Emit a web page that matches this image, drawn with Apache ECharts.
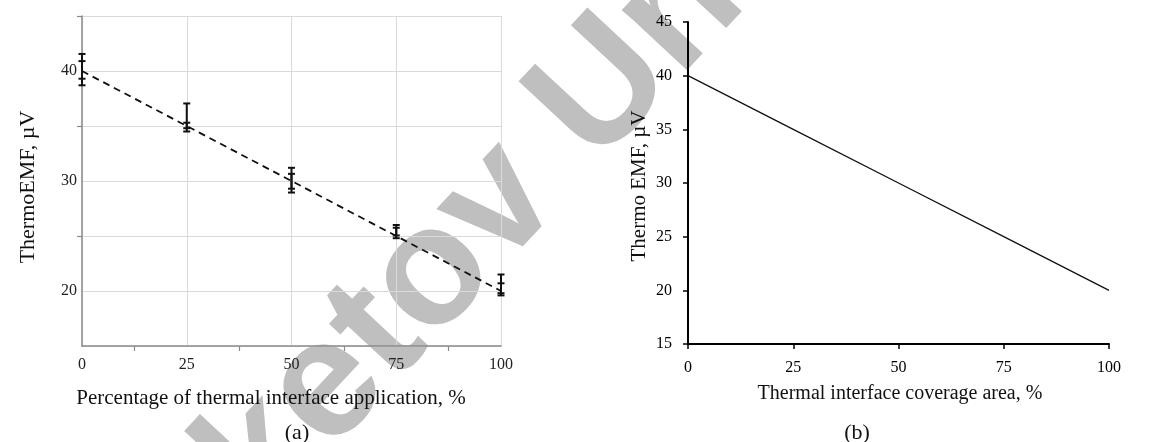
<!DOCTYPE html>
<html>
<head>
<meta charset="utf-8">
<script src="https://cdn.jsdelivr.net/npm/echarts@6/dist/echarts.min.js"></script>
<style>
  html, body { margin: 0; padding: 0; background: #fff; }
  #chart { width: 1174px; height: 442px; }
</style>
</head>
<body>
<div id="chart"></div>
<script>
// Panel (a): measured thermoEMF vs share of thermal interface applied
const coverageA = [0, 25, 50, 75, 100];
const emfMean = [40, 35, 30, 25, 20];
const emfOuterLow = [38.7, 34.5, 28.95, 24.8, 19.6];
const emfOuterHigh = [41.55, 37.05, 31.2, 26.0, 21.5];
const emfInnerLow = [39.3, 34.8, 29.3, 25.05, 19.8];
const emfInnerHigh = [40.9, 35.3, 30.65, 25.75, 20.7];

// Panel (b): thermoEMF vs thermal interface coverage area
const coverageB = [0, 25, 50, 75, 100];
const emfB = [40, 35, 30, 25, 20];

// Axis tick / label values for panel (a)
const yTicksA = [25, 35, 45];
const yLabelsA = [20, 30, 40];
const xMinorTicksA = [12.5, 37.5, 62.5, 87.5];

const serif = '"Liberation Serif", "Times New Roman", serif';

const chart = echarts.init(document.getElementById('chart'), null, { renderer: 'canvas' });

function errorBar(params, api) {
  const x = api.value(0);
  const lo = api.coord([x, api.value(1)]);
  const hi = api.coord([x, api.value(2)]);
  const hw = 3.5;
  const style = { stroke: '#111', lineWidth: 2 };
  return {
    type: 'group',
    children: [
      { type: 'line', shape: { x1: lo[0], y1: lo[1], x2: hi[0], y2: hi[1] }, style },
      { type: 'line', shape: { x1: lo[0] - hw, y1: lo[1], x2: lo[0] + hw, y2: lo[1] }, style },
      { type: 'line', shape: { x1: hi[0] - hw, y1: hi[1], x2: hi[0] + hw, y2: hi[1] }, style }
    ]
  };
}

const grayAxis = '#8a8a8a';
const hidden = { show: false };

chart.setOption({
  backgroundColor: '#ffffff',
  animation: false,
  grid: [
    { left: 82, top: 16, width: 419, height: 330 },
    { left: 688, top: 22, width: 421, height: 322 }
  ],
  xAxis: [
    {
      type: 'value', gridIndex: 0, min: 0, max: 100, interval: 25,
      axisLine: { show: true, lineStyle: { color: grayAxis, width: 1.5 } },
      axisTick: hidden,
      axisLabel: { margin: 11, color: '#222', fontFamily: serif, fontSize: 16 },
      splitLine: { show: true, lineStyle: { color: '#dadada', width: 1 } }
    },
    {
      type: 'value', gridIndex: 1, min: 0, max: 100, interval: 25,
      axisLine: { show: true, lineStyle: { color: '#000', width: 2 } },
      axisTick: { show: true, length: 5, lineStyle: { color: '#000', width: 1.5 } },
      axisLabel: { margin: 16, color: '#000', fontFamily: serif, fontSize: 16 },
      splitLine: hidden
    },
    {
      // minor ticks between the labelled values of panel (a)
      type: 'value', gridIndex: 0, min: 0, max: 100, interval: 12.5, position: 'bottom',
      axisLine: hidden, axisLabel: hidden, splitLine: hidden,
      axisTick: { show: true, customValues: xMinorTicksA, length: 5,
        lineStyle: { color: grayAxis, width: 1.2 } }
    }
  ],
  yAxis: [
    {
      type: 'value', gridIndex: 0, min: 15, max: 45, interval: 5,
      axisLine: { show: true, lineStyle: { color: grayAxis, width: 1.5 } },
      axisTick: hidden,
      axisLabel: { customValues: yLabelsA, margin: 5, color: '#222', fontFamily: serif, fontSize: 16 },
      splitLine: { show: true, lineStyle: { color: '#dadada', width: 1 } }
    },
    {
      type: 'value', gridIndex: 1, min: 15, max: 45, interval: 5,
      axisLine: { show: true, lineStyle: { color: '#000', width: 2 } },
      axisTick: { show: true, length: 5, lineStyle: { color: '#000', width: 1.5 } },
      axisLabel: { margin: 16, color: '#000', fontFamily: serif, fontSize: 16 },
      splitLine: hidden
    },
    {
      type: 'value', gridIndex: 0, min: 15, max: 45, interval: 5, position: 'left',
      axisLine: hidden, axisLabel: hidden, splitLine: hidden,
      axisTick: { show: true, customValues: yTicksA, length: 5,
        lineStyle: { color: grayAxis, width: 1.2 } }
    }
  ],
  series: [
    {
      type: 'line', xAxisIndex: 0, yAxisIndex: 0,
      data: coverageA.map((x, i) => [x, emfMean[i]]),
      symbol: 'none', z: 3,
      lineStyle: { color: '#111', width: 1.8, type: [7, 5] }
    },
    {
      type: 'custom', xAxisIndex: 0, yAxisIndex: 0, clip: false, z: 4,
      data: coverageA.map((x, i) => [x, emfOuterLow[i], emfOuterHigh[i]]),
      encode: { x: 0, y: [1, 2] },
      renderItem: errorBar
    },
    {
      type: 'custom', xAxisIndex: 0, yAxisIndex: 0, clip: false, z: 4,
      data: coverageA.map((x, i) => [x, emfInnerLow[i], emfInnerHigh[i]]),
      encode: { x: 0, y: [1, 2] },
      renderItem: errorBar
    },
    {
      type: 'line', xAxisIndex: 1, yAxisIndex: 1,
      data: coverageB.map((x, i) => [x, emfB[i]]),
      symbol: 'none', z: 3,
      lineStyle: { color: '#111', width: 1.3 }
    }
  ],
  graphic: [
    // university watermark across the figure
    {
      type: 'group', x: 140, y: 712, rotation: 47 * Math.PI / 180, z: -10, silent: true,
      children: [{
        type: 'text', x: 0, y: 0,
        style: {
          text: 'Buketov University',
          font: 'bold 168px "Liberation Sans", Arial, sans-serif',
          fill: '#bfbfbf', align: 'left', verticalAlign: 'bottom'
        }
      }]
    },
    { type: 'text', x: 271, y: 398, z: 10,
      style: { text: 'Percentage of thermal interface application, %', font: '21px ' + serif,
        fill: '#111', align: 'center', verticalAlign: 'middle' } },
    { type: 'text', x: 297, y: 433, z: 10,
      style: { text: '(a)', font: '22px ' + serif, fill: '#111', align: 'center', verticalAlign: 'middle' } },
    { type: 'text', x: 28, y: 187, rotation: Math.PI / 2, z: 10,
      style: { text: 'ThermoEMF, µV', font: '22px ' + serif, fill: '#111', align: 'center', verticalAlign: 'middle' } },
    { type: 'text', x: 900, y: 394, z: 10,
      style: { text: 'Thermal interface coverage area, %', font: '20px ' + serif,
        fill: '#111', align: 'center', verticalAlign: 'middle' } },
    { type: 'text', x: 857, y: 433, z: 10,
      style: { text: '(b)', font: '22px ' + serif, fill: '#111', align: 'center', verticalAlign: 'middle' } },
    { type: 'text', x: 639, y: 186, rotation: Math.PI / 2, z: 10,
      style: { text: 'Thermo EMF, µV', font: '21px ' + serif, fill: '#111', align: 'center', verticalAlign: 'middle' } }
  ]
});
</script>
</body>
</html>
